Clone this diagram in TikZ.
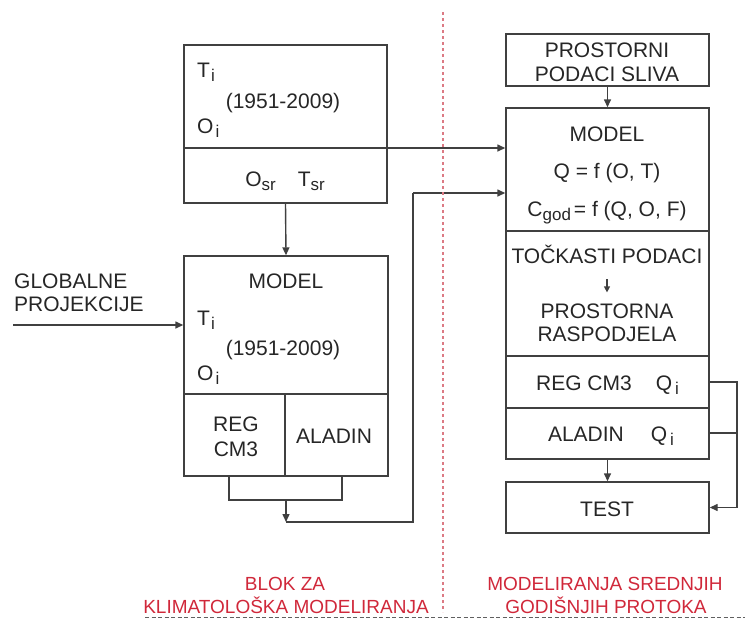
\documentclass[tikz,border=0pt]{standalone}
\usepackage{fontspec}
\setmainfont{Liberation Sans}
\usetikzlibrary{arrows.meta}
\definecolor{ink}{HTML}{262626}
\definecolor{lnc}{HTML}{404040}
\definecolor{redt}{HTML}{D0283A}
\definecolor{redd}{HTML}{DC7A84}
\definecolor{grd}{HTML}{606060}
\newcommand\sbx[1]{\raisebox{-4.5pt}{\fontsize{17}{17}\selectfont #1}}
\begin{document}
\begin{tikzpicture}[x=1pt,y=-1pt,
  box/.style={draw=lnc,line width=1.4pt,rectangle,inner sep=0pt},
  txt/.style={inner sep=0pt,text=ink,font=\fontsize{21}{23}\selectfont,anchor=base},
  txtl/.style={txt,anchor=base west},
  redlab/.style={inner sep=0pt,text=redt,font=\fontsize{19}{21}\selectfont,anchor=base},
  lnk/.style={draw=lnc,line width=1.4pt},
  arr/.style={lnk,-{Triangle[length=8pt,width=7pt]}},
  sarr/.style={lnk,line width=1.2pt,-{Triangle[length=6pt,width=6pt]}}]
\useasboundingbox (0,0) rectangle (745,619);

% ---------- left column ----------
\node[box,minimum width=203pt,minimum height=158pt] (b1) at (285.5,124) {};
\draw[lnk] (b1.west |- 0,148) -- (b1.east |- 0,148);
\node[txtl] (t1) at (197,77) {T\hspace{1pt}\sbx{i}};
\node[txt] (y1) at (283,108) {(1951-2009)};
\node[txtl] (o1) at (197,133) {O\hspace{2pt}\sbx{i}};
\node[txt] (os) at (285,186) {O\sbx{sr}\hspace{22pt}T\sbx{sr}};

\node[box,minimum width=204pt,minimum height=220pt] (b2) at (286,366) {};
\draw[lnk] (b2.west |- 0,394) -- (b2.east |- 0,394);
\draw[lnk] (285,394) -- (b2.south -| 285,0);
\node[txt] (m1) at (286,288) {MODEL};
\node[txtl] (t2) at (197,325) {T\hspace{1pt}\sbx{i}};
\node[txt] (y2) at (283,355) {(1951-2009)};
\node[txtl] (o2) at (197,380) {O\hspace{2pt}\sbx{i}};
\node[txt] (rg1) at (236,431) {REG};
\node[txt] (rg2) at (236,456) {CM3};
\node[txt] (al1) at (334,443) {ALADIN};

\node[txtl] (g1) at (14,288) {GLOBALNE};
\node[txtl] (g2) at (14,311) {PROJEKCIJE};
\coordinate (gs) at (13,325);
\draw[arr] (gs) -- (b2.west |- gs);

\draw[arr] (b1.south) -- (b2.north);

% bracket below left model
\coordinate (k1) at (229,500);
\coordinate (k2) at (342,500);
\coordinate (k3) at (286,500);
\coordinate (k4) at (286,522);
\coordinate (k5) at (413,522);
\coordinate (k6) at (413,193);
\draw[lnk] (b2.south -| k1) -- (k1) -- (k2) -- (b2.south -| k2);
\draw[arr] (k3) -- (k4);
\draw[lnk] (k4) -- (k5) -- (k6);

% ---------- right column ----------
\node[box,minimum width=203pt,minimum height=52pt] (r1) at (607.5,60) {};
\node[txt] (p1) at (607,57) {PROSTORNI};
\node[txt] (p2) at (607,81) {PODACI SLIVA};

\node[box,minimum width=203pt,minimum height=351pt] (r2) at (607.5,283.5) {};
\draw[lnk] (r2.west |- 0,231) -- (r2.east |- 0,231);
\draw[lnk] (r2.west |- 0,356) -- (r2.east |- 0,356);
\draw[lnk] (r2.west |- 0,408) -- (r2.east |- 0,408);
\node[txt] (m2) at (607,141) {MODEL};
\node[txt] (q1) at (607,178) {Q = f (O, T)};
\node[txt] (c1) at (607,216) {C\sbx{god}\hspace{3pt}= f (Q, O, F)};
\node[txt] (tp) at (607,263) {TOČKASTI PODACI};
\node[txt] (pa) at (607,318) {PROSTORNA};
\node[txt] (ra) at (607,341) {RASPODJELA};
\node[txt] (rq) at (607.5,390) {REG CM3\hspace{24pt}Q\hspace{3pt}\sbx{i}};
\node[txt] (aq) at (611,441) {ALADIN\hspace{27pt}Q\hspace{3pt}\sbx{i}};
\draw[sarr] ([yshift=-16pt]tp.south) -- ([yshift=-29pt]tp.south);

\node[box,minimum width=203pt,minimum height=51pt] (r3) at (607.5,507.5) {};
\node[txt] (te) at (607,516) {TEST};

\draw[arr] (r1.south) -- (r2.north);
\draw[arr] (r2.south) -- (r3.north);

\coordinate (a1) at (148,148);
\draw[arr] (b1.east |- a1) -- (r2.west |- a1);
\draw[arr] (k6) -- (r2.west |- k6);

\coordinate (e1) at (737,382);
\coordinate (e2) at (737,433);
\draw[lnk] (r2.east |- e1) -- (e1) -- (e2);
\draw[lnk] (r2.east |- e2) -- (e2);
\draw[arr] (e2) -- (e2 |- r3.east) -- (r3.east);

% ---------- separators and captions ----------
\coordinate (s1) at (443,12);
\coordinate (s2) at (443,612);
\draw[redd,line width=1.3pt,dash pattern=on 3pt off 3pt] (s1) -- (s2);
\coordinate (h1) at (145,617.5);
\coordinate (h2) at (745,617.5);
\draw[grd,line width=1.2pt,dash pattern=on 4pt off 2.5pt] (h1) -- (h2);

\node[redlab] (l1) at (285,590) {BLOK ZA};
\node[redlab] (l2) at (286,613) {KLIMATOLOŠKA MODELIRANJA};
\node[redlab] (l3) at (605,590) {MODELIRANJA SREDNJIH};
\node[redlab] (l4) at (606,613) {GODIŠNJIH PROTOKA};
\end{tikzpicture}
\end{document}
